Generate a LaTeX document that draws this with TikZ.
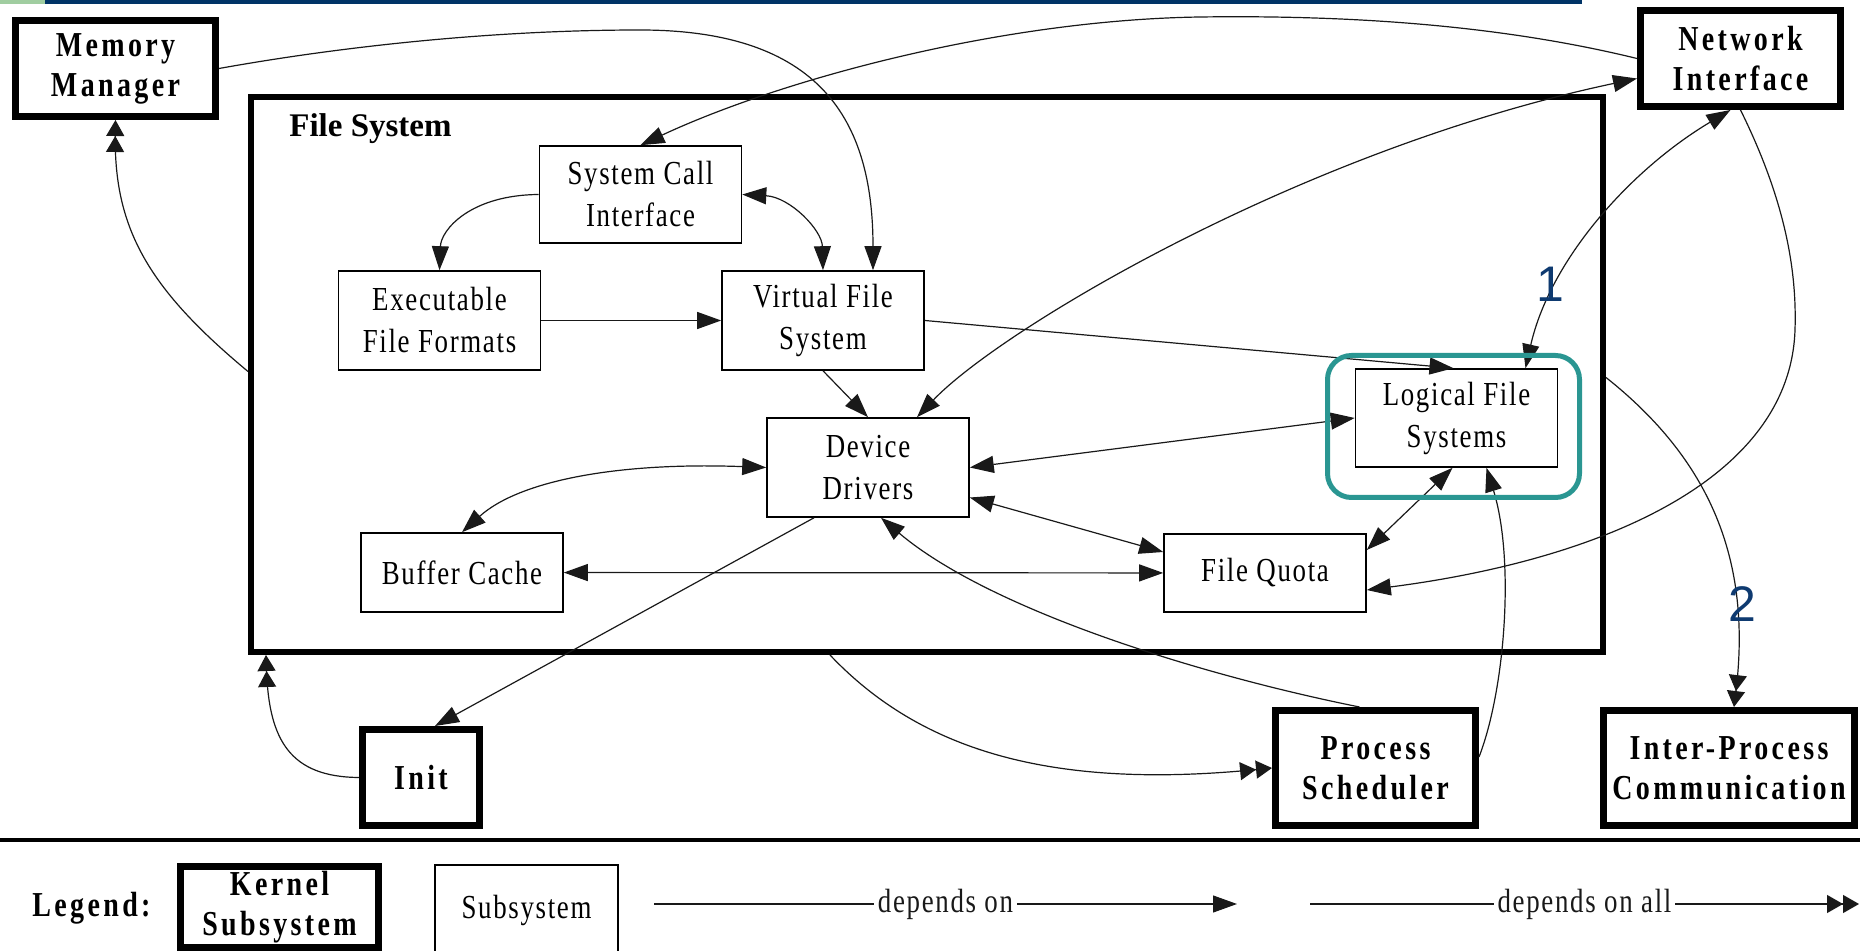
\documentclass[tikz,border=0pt]{standalone}
\usepackage{fontspec}
\setmainfont{Liberation Serif}
\newfontfamily\condfont{Liberation Serif}[FakeStretch=0.8,LetterSpace=5]
\newfontfamily\widefont{Liberation Serif}[FakeStretch=0.8,LetterSpace=9.6]
\newfontfamily\numfont{Liberation Sans}
\usetikzlibrary{arrows.meta,calc}
\definecolor{navy}{RGB}{14,58,112}
\definecolor{barnavy}{RGB}{0,51,102}
\definecolor{bargreen}{RGB}{160,205,160}
\definecolor{tealbox}{RGB}{42,150,146}
\begin{document}
\begin{tikzpicture}[x=0.5pt,y=-0.5pt,
	kern/.style={draw,line width=3.5pt,inner sep=0pt,align=center,font=\widefont\bfseries\fontsize{17.5}{20}\selectfont},
	subsys/.style={draw,line width=0.8pt,inner sep=0pt,align=center,minimum width=101pt,font=\condfont\fontsize{16.8}{21}\selectfont},
	dep/.style={line width=0.6pt,black!90,-{Triangle[length=12pt,width=8.5pt]}},
	both/.style={line width=0.6pt,black!90,{Triangle[length=12pt,width=8.5pt]}-{Triangle[length=12pt,width=8.5pt]}},
	depall/.style={line width=0.6pt,black!90,-{Triangle[length=8pt,width=9pt]Triangle[length=8pt,width=9pt]}}]
	\useasboundingbox (0,0) rectangle (1860,951) ;
	\fill[bargreen] (0,0) rectangle (45,4) ; \fill[barnavy] (45,0) rectangle (1582,4) ;
	% kernel subsystems
	\node[kern,minimum width=100pt,minimum height=48pt] (mm) at (115.5,68.5) {Memory\\Manager} ;
	\node[kern,minimum width=100pt,minimum height=48pt] (ni) at (1740.5,58.5) {Network\\Interface} ;
	\node[kern,minimum width=58.5pt,minimum height=48pt] (init) at (421,777.5) {Init} ;
	\node[kern,minimum width=100pt,minimum height=57.5pt] (ps) at (1375.5,768) {Process\\Scheduler} ;
	\node[kern,minimum width=125.5pt,minimum height=57.5pt] (ipc) at (1729,768) {Inter-Process\\Communication} ;
	\node[draw,line width=3pt,minimum width=676pt,minimum height=277.5pt] (fs) at (927,374.5) {} ;
	\node[anchor=base west,inner sep=0pt,font=\bfseries\fontsize{16.5}{20}\selectfont] (fslabel) at (289,137) {File System} ;
	% file system parts
	\node[subsys,minimum height=48.5pt] (sci) at (640.5,194.5) {System Call\\Interface} ;
	\node[subsys,minimum height=49.5pt] (exe) at (439.5,320.5) {Executable\\File Formats} ;
	\node[subsys,minimum height=49.5pt] (vfs) at (823,320.5) {Virtual File\\System} ;
	\node[subsys,minimum height=49.5pt] (dd) at (868,467.5) {Device\\Drivers} ;
	\node[subsys,minimum height=49pt] (lfs) at (1456.5,418) {Logical File\\Systems} ;
	\node[subsys,minimum height=39.5pt] (bc) at (462,572.5) {Buffer Cache} ;
	\node[subsys,minimum height=39pt] (fq) at (1265,573) {File Quota} ;
	% dependencies
	\draw[depall] ($(fs.west)+(0,-3)$) .. controls (150,290) and (114,230) .. (mm.south) ;
	\draw[dep] (mm.east) .. controls (350,45) and (500,30) .. (640,30) .. controls (820,30) and (873,120) .. ($(vfs.north)+(50,0)$) ;
	\draw[dep] (ni.west) .. controls (1500,25) and (1350,15) .. (1200,17) .. controls (1000,20) and (780,80) .. (sci.north) ;
	\draw[dep] (sci.west) .. controls (470,195) and (441,230) .. (exe.north) ;
	\draw[both] (sci.east) .. controls (790,197) and (822,230) .. (vfs.north) ;
	\draw[dep] (exe) -- (vfs) ;
	\draw[dep] (vfs.south) -- (dd.north) ;
	\draw[both] ($(dd.north)+(49,0)$) .. controls (1000,330) and (1300,150) .. ($(ni.west)+(0,20)$) ;
	\draw[dep] (vfs.east) -- ($(lfs.north)+(-3,0)$) ;
	\draw[both] ($(lfs.north)+(69,0)$) .. controls (1550,260) and (1630,170) .. ($(ni.south)+(-10,0)$) ;
	\draw[dep] (ni.south) .. controls (1785,200) and (1797,270) .. (1795,330) .. controls (1790,480) and (1600,560) .. ($(fq.east)+(0,17)$) ;
	\draw[both] (dd.east) -- (lfs.west) ;
	\draw[both] ($(dd.east)+(0,30)$) -- ($(fq.west)+(0,-21)$) ;
	\draw[both] (bc) -- (fq) ;
	\draw[both] (dd.west) .. controls (620,462) and (520,480) .. (bc.north) ;
	\draw[both] ($(lfs.south)+(-4,0)$) -- ($(fq.east)+(0,-23)$) ;
	\draw[dep] ($(ps.east)+(0,-11)$) .. controls (1505,690) and (1515,560) .. ($(lfs.south)+(30,0)$) ;
	\draw[dep] ($(ps.north)+(-16,0)$) .. controls (1200,675) and (990,610) .. ($(dd.south)+(13,0)$) ;
	\draw[dep] ($(dd.south)+(-54,0)$) -- ($(init.north)+(14,0)$) ;
	\draw[depall] ($(fs.south)+(-97,0)$) .. controls (920,750) and (1050,790) .. (ps.west) ;
	\draw[depall] (init.west) .. controls (290,777) and (269,740) .. ($(fs.south west)+(18,0)$) ;
	\draw[depall] ($(fs.east)+(0,3)$) .. controls (1710,460) and (1752,560) .. ($(ipc.north)+(5,0)$) ;
	% highlight and numbers
	\node[draw=tealbox,line width=2.5pt,rounded corners=12pt,minimum width=126pt,minimum height=71pt] (hl) at (1453.5,426.5) {} ;
	\node[text=navy,font=\numfont\fontsize{25}{27}\selectfont] (one) at (1550,284) {1} ;
	\node[text=navy,font=\numfont\fontsize{25}{27}\selectfont] (two) at (1742,604) {2} ;
	% legend
	\draw[line width=2pt] (0,840) -- (1860,840) ;
	\node[anchor=base west,inner sep=0pt,font=\widefont\bfseries\fontsize{17.5}{20}\selectfont] (legend) at (32,917) {Legend:} ;
	\node[kern,minimum width=99pt,minimum height=40.5pt] (lgkern) at (279.5,907) {Kernel\\Subsystem} ;
	\node[subsys,minimum width=91.5pt,minimum height=45pt] (lgsub) at (526.5,910) {Subsystem} ;
	\coordinate (a1) at (654,904) ; \coordinate (a2) at (1237,904) ;
	\coordinate (b1) at (1310,904) ; \coordinate (b2) at (1859,904) ;
	\draw[dep] (a1) -- node[fill=white,inner sep=2pt,font=\condfont\fontsize{16.8}{20}\selectfont] (lgdep) {depends on} (a2) ;
	\draw[depall] (b1) -- node[fill=white,inner sep=2pt,font=\condfont\fontsize{16.8}{20}\selectfont] (lgall) {depends on all} (b2) ;
\end{tikzpicture}
\end{document}
